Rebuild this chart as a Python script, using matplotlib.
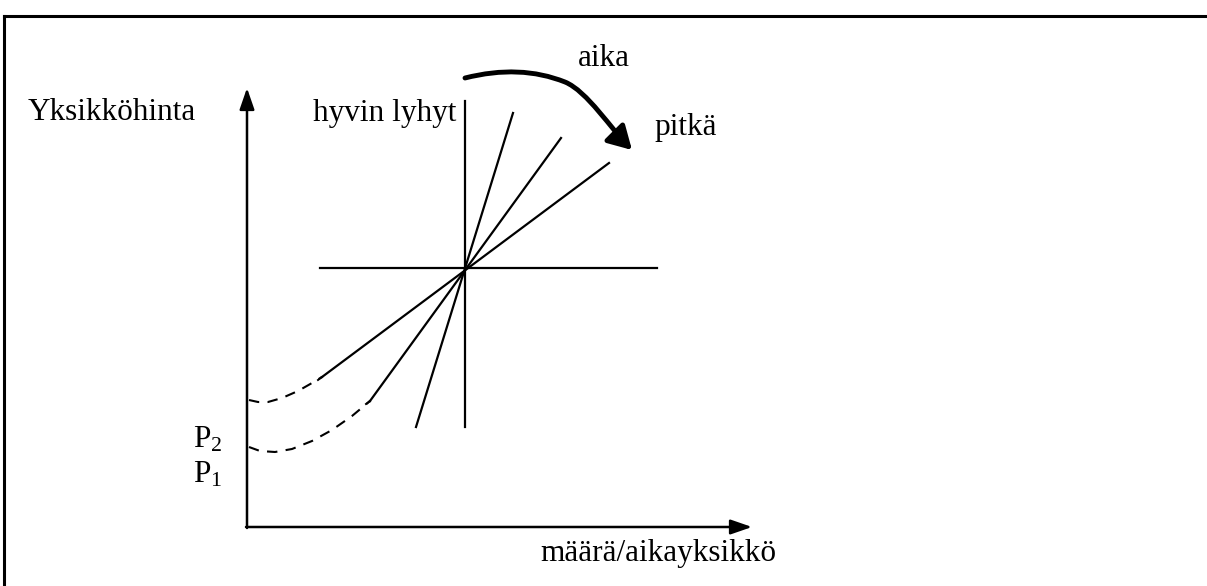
import numpy as np
import matplotlib.pyplot as plt
from matplotlib.patches import FancyArrowPatch
from matplotlib.path import Path

plt.rcParams['font.family'] = ['Liberation Serif', 'DejaVu Serif']
plt.rcParams['mathtext.fontset'] = 'custom'
plt.rcParams['mathtext.rm'] = 'Liberation Serif'
plt.rcParams['mathtext.it'] = 'Liberation Serif:italic'

# Keskipiste (hinta/määrä), kuvan pikselikoordinaateissa
center = (465, 268)

# Suorien päätepisteet: (alapää, yläpää)
supply_low = [(416, 427), (370, 401), (322, 377)]
supply_high = [(513, 113), (561, 138), (609, 163)]

# Katkoviivakäyrät (P1 ja P2 -tasoilta)
dash_upper_x = [249, 258, 268, 282, 298, 312, 322]
dash_upper_y = [400, 402, 402, 398, 391, 383, 377]
dash_lower_x = [249, 260, 275, 292, 312, 332, 352, 370]
dash_lower_y = [447, 451, 452, 449, 441, 430, 416, 401]

# pienet koukut suorien alapäissä
hooks = [((322, 377), (318, 380)), ((370, 401), (366, 404))]

# Aika-nuolen Bezier-ohjauspisteet
time_ctrl = [(465, 78), (520, 64), (565, 82), (587, 91), (612, 130), (632, 150)]
time_codes = [Path.MOVETO, Path.CURVE3, Path.CURVE3,
              Path.CURVE4, Path.CURVE4, Path.CURVE4]

fig = plt.figure(figsize=(12.07, 5.86), dpi=100)
ax = fig.add_axes([0, 0, 1, 1])
ax.set_xlim(0, 1207)
ax.set_ylim(586, 0)
ax.axis('off')

# kehys
ax.plot([4, 1207], [16, 16], color='black', lw=2.2)
ax.plot([4, 4], [16, 586], color='black', lw=2.2)

# akselit
ax.annotate('', xy=(247, 88), xytext=(247, 528),
            arrowprops=dict(arrowstyle='-|>,head_length=1.3,head_width=0.45',
                            color='black', lw=1.8, shrinkA=0, shrinkB=0))
ax.annotate('', xy=(752, 527), xytext=(246, 527),
            arrowprops=dict(arrowstyle='-|>,head_length=1.3,head_width=0.45',
                            color='black', lw=1.8, shrinkA=0, shrinkB=0))

# pysty- ja vaakaviiva keskipisteen kautta
ax.plot([center[0], center[0]], [101, 427], color='black', lw=1.6)
ax.plot([320, 657], [center[1], center[1]], color='black', lw=1.6)

for lo, hi in zip(supply_low, supply_high):
    ax.plot([lo[0], hi[0]], [lo[1], hi[1]], color='black', lw=1.6)
for a, b in hooks:
    ax.plot([a[0], b[0]], [a[1], b[1]], color='black', lw=1.4)

ax.plot(dash_upper_x, dash_upper_y, color='black', lw=1.5, ls=(0, (5, 4)))
ax.plot(dash_lower_x, dash_lower_y, color='black', lw=1.5, ls=(0, (5, 4)))

time_path = Path(time_ctrl, time_codes)
arr = FancyArrowPatch(path=time_path,
                      arrowstyle='-|>,head_length=14,head_width=8',
                      color='black', lw=3.5)
ax.add_patch(arr)

fs = 22.5
ax.text(28, 113, 'Yksikköhinta', fontsize=fs, va='center', ha='left')
ax.text(456, 113, 'hyvin lyhyt', fontsize=fs, va='center', ha='right')
ax.text(578, 59, 'aika', fontsize=fs, va='center', ha='left')
ax.text(654, 127, 'pitkä', fontsize=fs, va='center', ha='left')
ax.text(193, 440, 'P$_2$', fontsize=fs, va='center', ha='left')
ax.text(193, 475, 'P$_1$', fontsize=fs, va='center', ha='left')
ax.text(540, 553, 'määrä/aikayksikkö', fontsize=fs, va='center', ha='left')

fig.savefig('out.png', dpi=100)
